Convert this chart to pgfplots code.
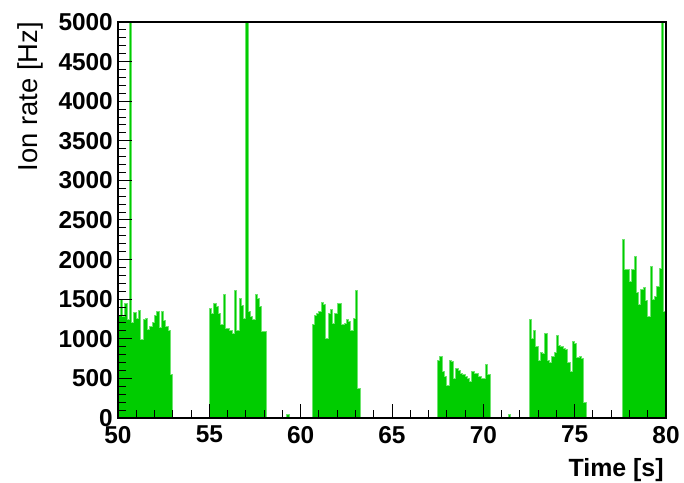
\documentclass[border=0pt]{standalone}
\usepackage{fontspec}
\setmainfont{Liberation Sans}
\usepackage{pgfplots}
\usepackage{pgfplotstable}
\pgfplotsset{compat=1.18}
\definecolor{histfill}{RGB}{0,204,0}
\definecolor{histline}{RGB}{110,228,110}

\pgfplotstableread{
x y
50.000 1300
50.125 1490
50.250 1280
50.375 1450
50.500 1250
50.625 5200
50.750 1200
50.875 1330
51.000 1260
51.125 1360
51.250 990
51.375 1240
51.500 1260
51.625 1120
51.750 1160
51.875 1200
52.000 1300
52.125 1340
52.250 1140
52.375 1350
52.500 1230
52.625 1150
52.750 1100
52.875 550
53.000 0
55.000 1385
55.125 1320
55.250 1440
55.375 1405
55.500 1320
55.625 1175
55.750 1565
55.875 1130
56.000 1130
56.125 1110
56.250 1070
56.375 1610
56.500 1110
56.625 1510
56.750 1420
56.875 1260
57.000 5200
57.125 1340
57.250 1280
57.375 1240
57.500 1565
57.625 1510
57.750 1405
57.875 1090
58.000 1090
58.125 0
59.250 40
59.375 0
60.625 1175
60.750 1300
60.875 1320
61.000 1340
61.125 1455
61.250 1430
61.375 1005
61.500 1320
61.625 1365
61.750 1195
61.875 1320
62.000 1440
62.125 1440
62.250 1175
62.375 1195
62.500 1240
62.625 1215
62.750 1110
62.875 1260
63.000 1615
63.125 375
63.250 0
67.500 730
67.625 775
67.750 585
67.875 520
68.000 415
68.125 730
68.250 710
68.375 500
68.500 625
68.625 605
68.750 565
68.875 545
69.000 520
69.125 500
69.250 460
69.375 585
69.500 565
69.625 565
69.750 520
69.875 500
70.000 500
70.125 670
70.250 545
70.375 0
71.375 40
71.500 0
72.500 1240
72.625 1000
72.750 1110
72.875 900
73.000 730
73.125 830
73.250 820
73.375 1070
73.500 720
73.625 700
73.750 780
73.875 830
74.000 1040
74.125 920
74.250 900
74.375 880
74.500 860
74.625 700
74.750 590
74.875 960
75.000 940
75.125 760
75.250 780
75.375 750
75.500 200
75.625 0
77.625 2250
77.750 1870
77.875 1880
78.000 1720
78.125 1880
78.250 2040
78.375 1580
78.500 1430
78.625 1620
78.750 1650
78.875 1480
79.000 1280
79.125 1910
79.250 1500
79.375 1530
79.500 1660
79.625 1890
79.750 5200
79.875 1340
80.000 0
}\ratedata

\begin{document}
\begin{tikzpicture}
\path[use as bounding box] (-118bp,-65bp) rectangle (566bp,418bp);
\begin{axis}[
  at={(0,0)}, anchor=south west,
  scale only axis, width=548bp, height=396bp,
  xmin=50, xmax=80, ymin=0, ymax=5000,
  axis on top,
  axis line style={black, line width=1.2bp},
  xtick={50,55,...,80}, minor x tick num=4,
  ytick={0,500,...,5000}, minor y tick num=4,
  xtick pos=bottom, ytick pos=left,
  tick align=inside,
  major tick length=14bp, minor tick length=8bp,
  tick style={black, line width=1bp},
  scaled y ticks=false,
  /pgf/number format/1000 sep={},
  /pgf/number format/assume math mode=true,
  tick label style={font=\fontsize{24.5}{27}\selectfont\bfseries, inner sep=0pt},
  xticklabel style={yshift=-8bp},
  yticklabel style={xshift=-5bp},
  xlabel={Time [s]},
  ylabel={Ion rate [Hz]},
  xlabel style={font=\fontsize{25}{28}\selectfont\bfseries, at={(axis description cs:0.996,-0.101)}, anchor=north east, inner sep=0pt},
  ylabel style={font=\fontsize{27.5}{30}\selectfont, at={(axis description cs:-0.137,1)}, anchor=south east, inner sep=0pt},
]
\addplot[const plot, fill=histfill, draw=none] table[x=x, y=y] {\ratedata} \closedcycle;
\addplot[const plot, draw=histline, line width=1bp] table[x=x, y=y] {\ratedata};
\end{axis}
\end{tikzpicture}
\end{document}
